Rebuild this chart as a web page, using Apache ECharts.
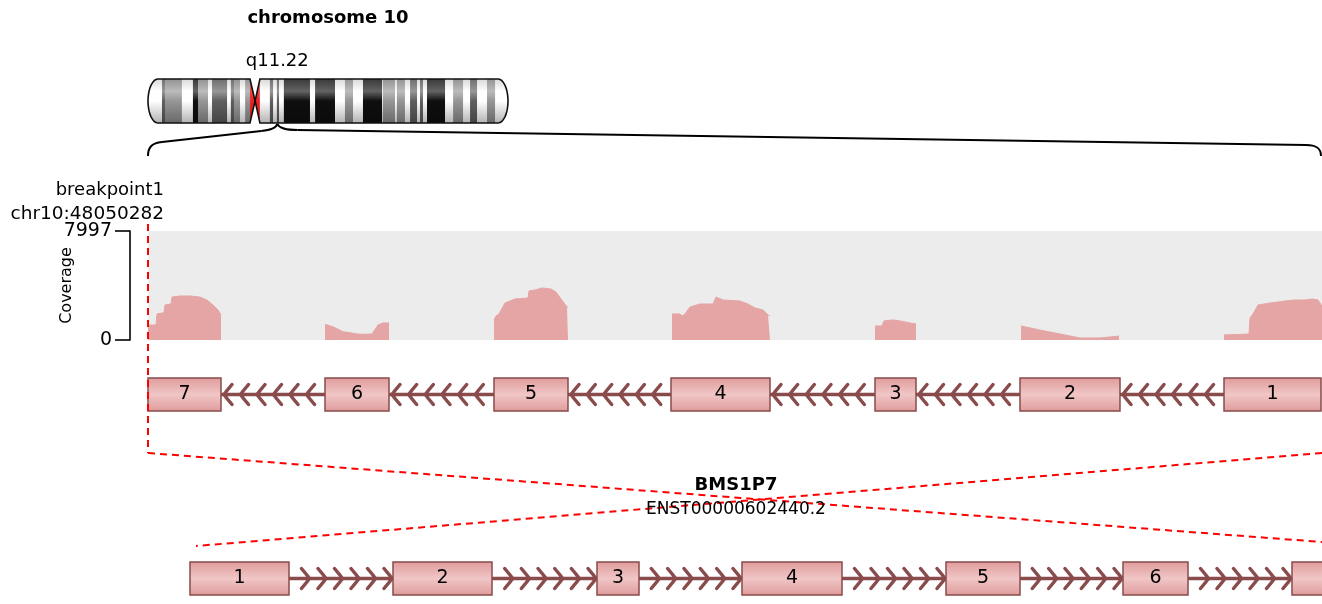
<!DOCTYPE html>
<html>
<head>
<meta charset="utf-8">
<title>BMS1P7 breakpoint</title>
<script src="https://cdn.jsdelivr.net/npm/echarts@6.0.0/dist/echarts.min.js"></script>
<style>
  html, body { margin: 0; padding: 0; background: #fff; }
  #chart { width: 1322px; height: 604px; }
</style>
</head>
<body>
<div id="chart"></div>
<script>
const FONT = '"DejaVu Sans", "Liberation Sans", sans-serif';
const INTRON = '#894b4b';

// chromosome 10 ideogram, band starts in Mb
const chromName = 'chromosome 10';
const chromLength = 133.8;
const bandStart = [0, 5.2, 6.3, 12.6, 16.7, 18.6, 22.3, 23.8, 29.4, 30.8,
  32.0, 34.2, 36.1, 37.9, 39.8, 41.6, 45.3, 46.5, 47.9, 48.7,
  50.5, 60.2, 62.1, 69.5, 73.2, 76.2, 79.9, 87.0, 87.3, 91.8,
  92.5, 95.5, 97.4, 100.0, 101.1, 102.2, 103.7, 110.4, 113.4, 117.1,
  119.7, 122.3, 126.0, 129.0];
const bandStain = ['gneg', 'gpos75', 'gpos50', 'gneg', 'gpos100', 'gpos50', 'gneg', 'gpos75', 'gneg', 'gpos75',
  'gpos50', 'gneg', 'gpos50', 'acen', 'acen', 'gneg', 'gpos75', 'gneg', 'gpos75', 'gneg',
  'gpos100', 'gneg', 'gpos100', 'gneg', 'gpos50', 'gneg', 'gpos100', 'gneg', 'gpos50', 'gneg',
  'gpos50', 'gneg', 'gpos75', 'gneg', 'gpos75', 'gneg', 'gpos100', 'gneg', 'gpos50', 'gneg',
  'gpos75', 'gneg', 'gpos50', 'gneg'];
const breakpointMb = 48.050282;
const breakpointBand = 'q11.22';
const breakpointName = 'breakpoint1';
const breakpointPos = 'chr10:48050282';

// transcript in compressed coordinates (introns drawn with a fixed width)
const geneName = 'BMS1P7';
const transcriptId = 'ENST00000602440.2';
const trackLength = 1174;
const topExonLabel = ['7', '6', '5', '4', '3', '2', '1'];
const topExonStart = [0, 177, 346, 523, 727, 872, 1076];
const topExonEnd = [73, 241, 420, 622, 768, 972, 1173];
const bottomExonLabel = ['1', '2', '3', '4', '5', '6', '7'];
const bottomExonStart = [42, 245, 449, 594, 798, 975, 1144];
const bottomExonEnd = [141, 344, 491, 694, 872, 1040, 1250];

// read coverage over the exons of the upper track
const coverageMax = 7997;
const covExon7 = [[0, 1100], [8, 1100], [9, 1910], [16, 2000], [17, 2570], [23, 2640], [24, 3150], [32, 3230], [42, 3230], [52, 3150], [59, 2930], [65, 2570], [70, 2200], [73, 1840]];
const covExon6 = [[177, 1150], [185, 970], [195, 610], [212, 420], [224, 440], [230, 1100], [235, 1250], [241, 1250]];
const covExon5 = [[346, 1470], [348, 1760], [351, 1910], [357, 2710], [362, 2860], [367, 3010], [380, 3080], [381, 3600], [387, 3670], [394, 3820], [403, 3740], [408, 3520], [413, 3010], [419, 2420], [420, 2420]];
const covExon4 = [[524, 1910], [532, 1910], [534, 1760], [537, 1910], [542, 2420], [552, 2640], [565, 2640], [568, 3150], [575, 2940], [592, 2860], [600, 2640], [607, 2350], [615, 2200], [620, 1840], [622, 1760]];
const covExon3 = [[727, 1030], [734, 1030], [736, 1400], [745, 1470], [752, 1400], [762, 1250], [768, 1180]];
const covExon2 = [[873, 1030], [892, 730], [912, 440], [932, 150], [952, 150], [962, 220], [971, 290]];
const covExon1 = [[1076, 370], [1101, 440], [1102, 1620], [1105, 1910], [1110, 2570], [1122, 2710], [1137, 2860], [1147, 2935], [1157, 2935], [1164, 3010], [1170, 2935], [1172, 2710], [1174, 2500]];

const stainGray = { gneg: 255, gpos25: 200, gpos50: 150, gpos75: 95, gpos100: 15 };

const chart = echarts.init(document.getElementById('chart'));

function grayStr(v) {
  v = Math.max(0, Math.min(255, Math.round(v)));
  return 'rgb(' + v + ',' + v + ',' + v + ')';
}
// cylinder-like shading of a band
function shade(g) {
  const mix = (v, t) => v + (255 - v) * t;
  return new echarts.graphic.LinearGradient(0, 0, 0, 1, [
    { offset: 0, color: grayStr(mix(g, 0.22) * 0.85) },
    { offset: 0.28, color: grayStr(mix(g, 0.35)) },
    { offset: 0.5, color: grayStr(g) },
    { offset: 1, color: grayStr(g * 0.7) }
  ]);
}
const acenFill = new echarts.graphic.LinearGradient(0, 0, 0, 1, [
  { offset: 0, color: '#f07070' }, { offset: 0.5, color: '#ee2222' }, { offset: 1, color: '#c01818' }
]);
const exonFill = new echarts.graphic.LinearGradient(0, 0, 0, 1, [
  { offset: 0, color: '#e09a9a' }, { offset: 0.5, color: '#f0c6c6' }, { offset: 1, color: '#df9a9a' }
]);

const bandData = bandStart.map((s, i) => [s, i + 1 < bandStart.length ? bandStart[i + 1] : chromLength, i]);
const acenIdx = bandStain.indexOf('acen');
const cenStart = bandStart[acenIdx], cenMid = bandStart[acenIdx + 1], cenEnd = bandStart[acenIdx + 2];

function ellipsePts(cx, cy, rx, ry, a0, a1, n) {
  const pts = [];
  for (let k = 0; k <= n; k++) {
    const a = a0 + (a1 - a0) * k / n;
    pts.push([cx + rx * Math.cos(a), cy + ry * Math.sin(a)]);
  }
  return pts;
}

function renderBand(params, api) {
  const i = api.value(2);
  const p0 = api.coord([api.value(0), 0]);
  const p1 = api.coord([api.value(1), 1]);
  const top = p1[1], bot = p0[1], mid = (top + bot) / 2;
  if (bandStain[i] === 'acen') {
    const pArm = bandStain[i + 1] === 'acen';
    const pts = pArm ? [[p0[0], top], [p1[0], mid], [p0[0], bot]] : [[p1[0], top], [p0[0], mid], [p1[0], bot]];
    return { type: 'polygon', shape: { points: pts }, style: { fill: acenFill } };
  }
  return {
    type: 'rect',
    shape: { x: p0[0], y: top, width: p1[0] - p0[0] + 0.6, height: bot - top },
    style: { fill: shade(stainGray[bandStain[i]]) }
  };
}

function renderOutline(params, api) {
  const x0 = api.coord([0, 0])[0], x1 = api.coord([chromLength, 0])[0];
  const y0 = api.coord([0, 1])[1], y1 = api.coord([0, 0])[1], ym = (y0 + y1) / 2;
  const cs = api.coord([cenStart, 0])[0], cm = api.coord([cenMid, 0])[0], ce = api.coord([cenEnd, 0])[0];
  const rx = 10, ry = (y1 - y0) / 2;
  const leftArc = ellipsePts(x0 + rx, ym, rx, ry, -Math.PI / 2, -1.5 * Math.PI, 24); // top -> left -> bottom
  const rightArc = ellipsePts(x1 - rx, ym, rx, ry, -Math.PI / 2, Math.PI / 2, 24);   // top -> right -> bottom
  const stroke = { fill: null, stroke: '#111', lineWidth: 1.6 };
  return {
    type: 'group',
    children: [
      { type: 'polygon', shape: { points: [[x0 - 2, y0 - 2]].concat(leftArc, [[x0 + rx, y1 + 2], [x0 - 2, y1 + 2]]) }, style: { fill: '#fff' } },
      { type: 'polygon', shape: { points: [[x1 + 2, y0 - 2]].concat(rightArc, [[x1 - rx, y1 + 2], [x1 + 2, y1 + 2]]) }, style: { fill: '#fff' } },
      { type: 'polygon', shape: { points: [[cs, y0], [cm, ym], [cs, y1]].concat(leftArc.slice().reverse()) }, style: stroke },
      { type: 'polygon', shape: { points: [[ce, y0]].concat(rightArc, [[ce, y1], [cm, ym]]) }, style: stroke }
    ]
  };
}

function exonRenderer(labels) {
  return function (params, api) {
    const p0 = api.coord([api.value(0), 0]);
    const p1 = api.coord([api.value(1), 1]);
    return {
      type: 'rect',
      shape: { x: p0[0], y: p1[1], width: p1[0] - p0[0], height: p0[1] - p1[1] },
      style: { fill: exonFill, stroke: INTRON, lineWidth: 1.5 },
      textContent: { style: { text: labels[api.value(2)], font: '19px ' + FONT, fill: '#000' } },
      textConfig: { position: 'inside' }
    };
  };
}

// dir -1: chevrons point left, 1: point right
const chevronsPerIntron = 6;
function intronRenderer(dir) {
  return function (params, api) {
    const a = api.coord([api.value(0), 0.5]);
    const b = api.coord([api.value(1), 0.5]);
    const y = a[1];
    const kids = [{ type: 'line', shape: { x1: a[0], y1: y, x2: b[0], y2: y }, style: { stroke: INTRON, lineWidth: 3.5 } }];
    const step = (b[0] - a[0]) / 6.3, arm = 8, h = 10;
    for (let i = 0; i < chevronsPerIntron; i++) {
      const tip = dir < 0 ? a[0] + 3 + i * step : b[0] - 1 - i * step;
      const back = tip - dir * arm;
      kids.push({
        type: 'polyline',
        shape: { points: [[back, y - h], [tip - dir * 3, y - 4], [tip, y], [tip - dir * 3, y + 4], [back, y + h]] },
        style: { stroke: INTRON, lineWidth: 3.5, fill: null, lineJoin: 'round', lineCap: 'round' }
      });
    }
    return { type: 'group', children: kids };
  };
}

// shaded background of the coverage panel
function renderPanel(params, api) {
  const p0 = api.coord([api.value(0), 0]);
  const p1 = api.coord([api.value(1), coverageMax]);
  return { type: 'rect', shape: { x: p0[0], y: p1[1], width: p1[0] - p0[0], height: p0[1] - p1[1] }, style: { fill: '#ececec' } };
}

function exonData(starts, ends) {
  return starts.map((s, i) => [s, ends[i], i]);
}
function intronData(starts, ends) {
  const out = [];
  for (let i = 0; i + 1 < starts.length; i++) out.push([ends[i], starts[i + 1]]);
  return out;
}

const coverageSegments = [covExon7, covExon6, covExon5, covExon4, covExon3, covExon2, covExon1];
const hiddenX = (g, min, max) => ({ type: 'value', gridIndex: g, min: min, max: max, show: false });
const hiddenY = (g) => ({ type: 'value', gridIndex: g, min: 0, max: 1, show: false });

chart.setOption({
  animation: false,
  backgroundColor: '#fff',
  textStyle: { fontFamily: FONT },
  grid: [
    // coverage panel: axis sits 18 units left of the track start
    { left: 130, width: 1192, top: 231, height: 109 },
    { left: 148, width: 1174, top: 378, height: 33 },
    { left: 148, width: 1174, top: 562, height: 33 },
    { left: 148, width: 360, top: 79, height: 44 }
  ],
  xAxis: [hiddenX(0, -18, trackLength), hiddenX(1, 0, trackLength), hiddenX(2, 0, trackLength), hiddenX(3, 0, chromLength)],
  yAxis: [
    {
      type: 'value', gridIndex: 0, min: 0, max: coverageMax, interval: coverageMax,
      name: 'Coverage', nameLocation: 'middle', nameGap: 55, nameMoveOverlap: false,
      nameTextStyle: { fontSize: 16, color: '#000', fontFamily: FONT },
      axisLine: { show: true, onZero: false, lineStyle: { color: '#000', width: 1.6 } },
      axisTick: { show: true, length: 15, lineStyle: { color: '#000', width: 1.6 } },
      axisLabel: { margin: 18, fontSize: 19, color: '#000', fontFamily: FONT, formatter: v => String(v) },
      splitLine: { show: false }
    },
    hiddenY(1), hiddenY(2), hiddenY(3)
  ],
  series: [
    { type: 'custom', xAxisIndex: 0, yAxisIndex: 0, renderItem: renderPanel, data: [[0, trackLength]], silent: true, z: 1 }
  ].concat(coverageSegments.map(seg => ({
    type: 'line', xAxisIndex: 0, yAxisIndex: 0, data: seg, symbol: 'none', silent: true, z: 2,
    lineStyle: { width: 1, color: '#e5a5a5' }, areaStyle: { color: '#e5a5a5', opacity: 1 }
  }))).concat([
    { type: 'custom', xAxisIndex: 1, yAxisIndex: 1, renderItem: intronRenderer(-1), data: intronData(topExonStart, topExonEnd), silent: true, z: 3 },
    { type: 'custom', xAxisIndex: 1, yAxisIndex: 1, renderItem: exonRenderer(topExonLabel), data: exonData(topExonStart, topExonEnd), silent: true, z: 4 },
    { type: 'custom', xAxisIndex: 2, yAxisIndex: 2, renderItem: intronRenderer(1), data: intronData(bottomExonStart, bottomExonEnd), silent: true, z: 3 },
    { type: 'custom', xAxisIndex: 2, yAxisIndex: 2, renderItem: exonRenderer(bottomExonLabel), data: exonData(bottomExonStart, bottomExonEnd), silent: true, z: 4 },
    { type: 'custom', xAxisIndex: 3, yAxisIndex: 3, renderItem: renderBand, data: bandData, silent: true, clip: false, z: 3 },
    { type: 'custom', xAxisIndex: 3, yAxisIndex: 3, renderItem: renderOutline, data: [[0, chromLength]], silent: true, clip: false, z: 4 }
  ])
});

// connectors and labels, anchored on the axes above
const bx = chart.convertToPixel({ xAxisIndex: 3 }, breakpointMb);
const chromMid = (chart.convertToPixel({ xAxisIndex: 3 }, 0) + chart.convertToPixel({ xAxisIndex: 3 }, chromLength)) / 2;
const gx0 = chart.convertToPixel({ xAxisIndex: 1 }, 0);
const gx1 = chart.convertToPixel({ xAxisIndex: 1 }, trackLength);
const bottomLeft = chart.convertToPixel({ xAxisIndex: 2 }, 48);
const chromBottom = chart.convertToPixel({ yAxisIndex: 3 }, 0);
const black = { stroke: '#000', lineWidth: 2, fill: null };
const redDash = { stroke: '#ff0000', lineWidth: 2, lineDash: [7, 5] };
const txt = (x, y, text, size, opts) => Object.assign({
  type: 'text', x: x, y: y, z: 20,
  style: Object.assign({ text: text, fontSize: size, fontFamily: FONT, fill: '#000', textAlign: 'center', textVerticalAlign: 'middle' }, opts || {})
});

chart.setOption({
  graphic: [
    { type: 'bezierCurve', shape: { x1: bx, y1: chromBottom + 1, cpx1: bx - 1, cpy1: chromBottom + 5, cpx2: bx - 6, cpy2: chromBottom + 7, x2: bx - 16, y2: chromBottom + 8 }, style: black, z: 10 },
    { type: 'line', shape: { x1: bx - 16, y1: chromBottom + 8, x2: gx0 + 14, y2: chromBottom + 19 }, style: black, z: 10 },
    { type: 'bezierCurve', shape: { x1: gx0 + 14, y1: chromBottom + 19, cpx1: gx0 + 4, cpy1: chromBottom + 20, cpx2: gx0, cpy2: chromBottom + 24, x2: gx0, y2: chromBottom + 33 }, style: black, z: 10 },
    { type: 'bezierCurve', shape: { x1: bx, y1: chromBottom + 1, cpx1: bx + 2, cpy1: chromBottom + 5, cpx2: bx + 8, cpy2: chromBottom + 7, x2: bx + 20, y2: chromBottom + 7 }, style: black, z: 10 },
    { type: 'line', shape: { x1: bx + 20, y1: chromBottom + 7, x2: gx1 - 16, y2: chromBottom + 22 }, style: black, z: 10 },
    { type: 'bezierCurve', shape: { x1: gx1 - 16, y1: chromBottom + 22, cpx1: gx1 - 6, cpy1: chromBottom + 22, cpx2: gx1 - 1, cpy2: chromBottom + 25, x2: gx1 - 1, y2: chromBottom + 33 }, style: black, z: 10 },

    { type: 'line', shape: { x1: gx0, y1: 224, x2: gx0, y2: 453 }, style: redDash, z: 15 },
    { type: 'line', shape: { x1: gx0, y1: 453, x2: gx1, y2: 542 }, style: redDash, z: 15 },
    { type: 'line', shape: { x1: gx1, y1: 453, x2: bottomLeft, y2: 546 }, style: redDash, z: 15 },

    txt(chromMid, 18, chromName, 18, { fontWeight: 'bold' }),
    txt(bx, 61, breakpointBand, 18),
    txt(164, 190, breakpointName, 18, { textAlign: 'right' }),
    txt(164, 214, breakpointPos, 18.5, { textAlign: 'right' }),
    txt(736, 485, geneName, 18, { fontWeight: 'bold' }),
    txt(736, 510, transcriptId, 17)
  ]
});
</script>
</body>
</html>
